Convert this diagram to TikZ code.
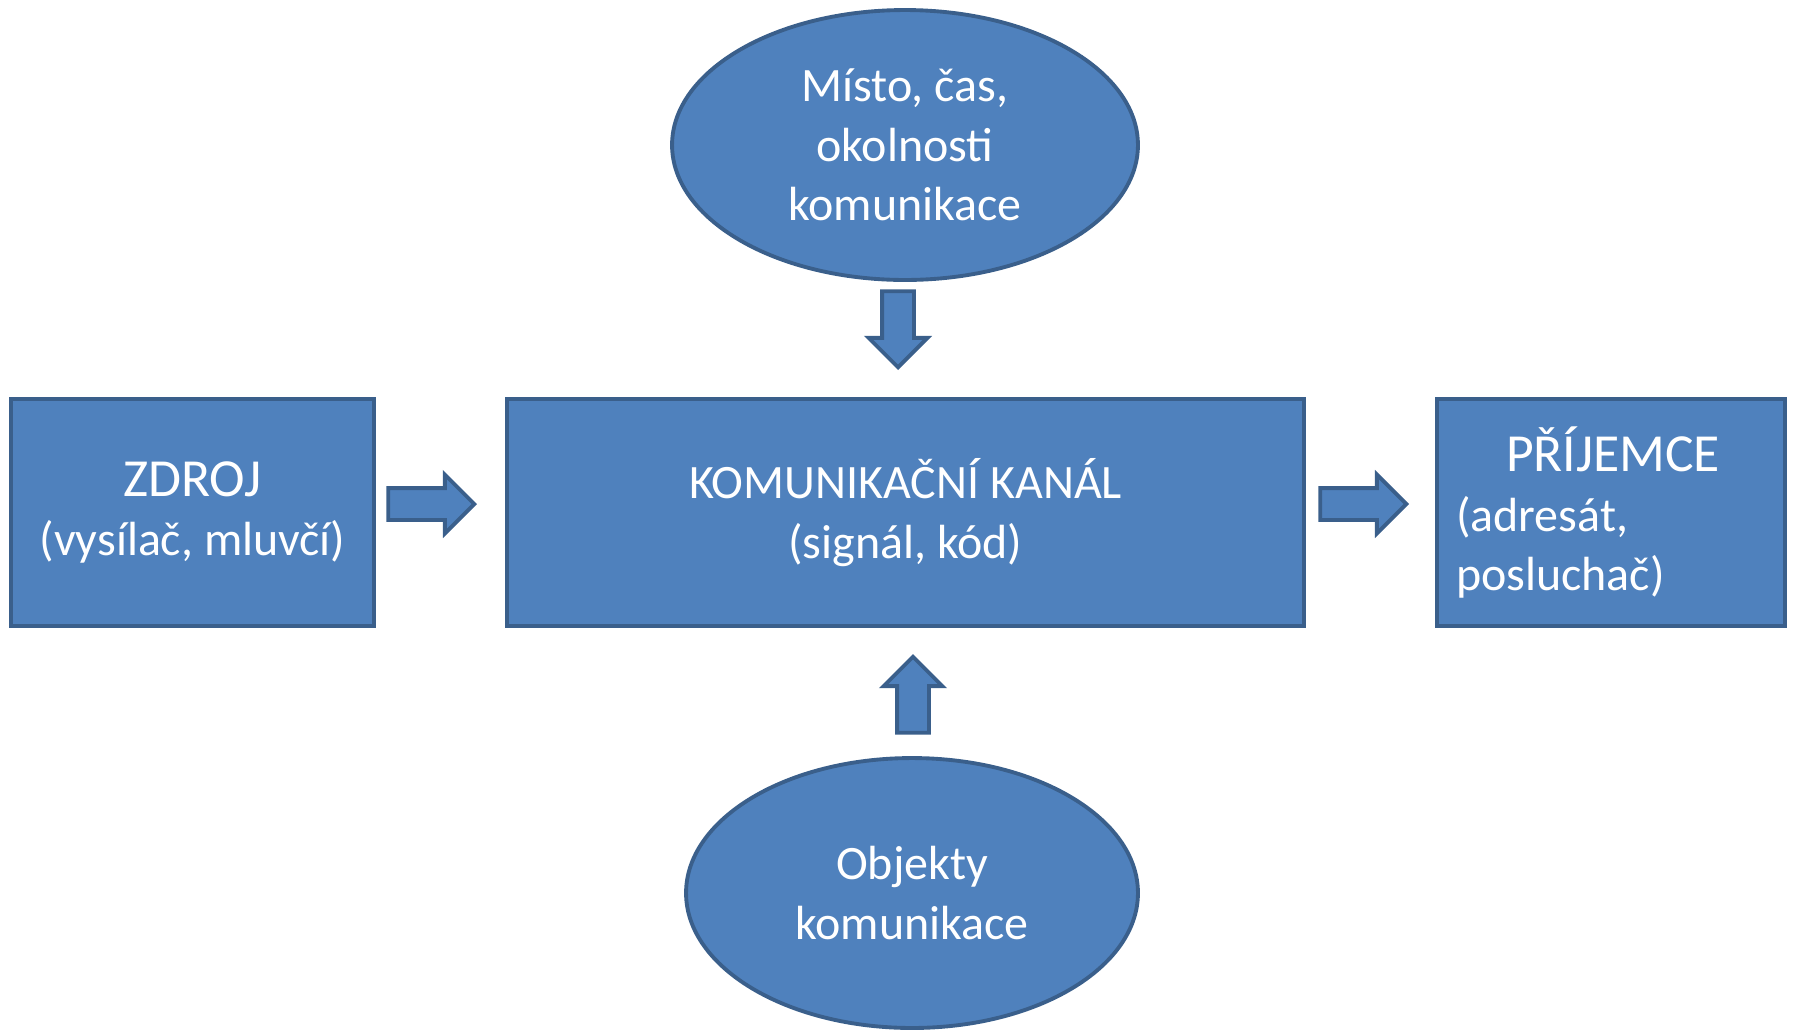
\documentclass[tikz,border=0pt]{standalone}
\usepackage{fontspec}
\setmainfont{Carlito}
\usepackage{xcolor}
\usetikzlibrary{shapes.geometric, shapes.arrows, positioning}

\definecolor{boxfill}{HTML}{4F81BD}
\definecolor{boxline}{HTML}{3A5F8B}

\newcommand{\velky}{\fontsize{30.5}{36}\selectfont}

\begin{document}
\begin{tikzpicture}[x=0.02cm, y=-0.02cm]

		\tikzstyle{blok}=[rectangle, draw=boxline, fill=boxfill, line width=2.2pt, text=white, align=center, font=\fontsize{27.3}{34}\selectfont, minimum height=4.54cm]
		\tikzstyle{elipsa}=[ellipse, draw=boxline, fill=boxfill, line width=2.2pt, text=white, align=center, font=\fontsize{27.3}{34}\selectfont, inner sep=0pt]
		\tikzstyle{sipka}=[single arrow, draw=boxline, fill=boxfill, line width=2.2pt, inner sep=0.28cm, single arrow head extend=0.27cm, minimum height=1.72cm, single arrow tip angle=90, anchor=tip]

		\useasboundingbox (0,0) rectangle (1794,1029);

		\node (zdroj) at (192.5,512.5) [blok, minimum width=7.26cm] {{\velky ZDROJ}\\(vysílač, mluvčí)};
		\node (kanal) at (905.5,512.5) [blok, minimum width=15.94cm] {KOMUNIKAČNÍ KANÁL\\(signál, kód)};
		\node (prijemce) at (1611,512.5) [blok, minimum width=6.96cm, align=left, text width=6.2cm] {\hspace*{1.0cm}{\velky PŘÍJEMCE}\\(adresát,\\posluchač)};

		\node (misto) at (905,145) [elipsa, minimum width=9.32cm, minimum height=5.4cm] {Místo, čas,\\okolnosti\\komunikace};
		\node (objekty) at (912,893) [elipsa, minimum width=9.04cm, minimum height=5.4cm] {Objekty\\komunikace};

		\node (s1) at (477,504) [sipka] {};
		\node (s2) at (1409,504) [sipka] {};
		\node (s3) at (898,370) [sipka, shape border rotate=270, minimum height=1.52cm] {};
		\node (s4) at (913,654) [sipka, shape border rotate=90, minimum height=1.52cm] {};

\end{tikzpicture}
\end{document}
